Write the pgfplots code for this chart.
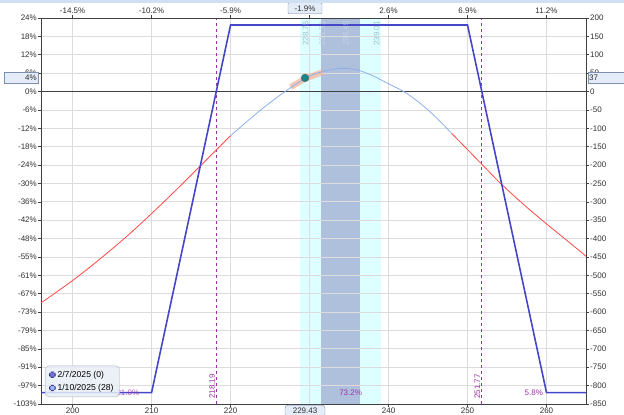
\documentclass[border=0pt]{standalone}
\usepackage{pgfplots}
\pgfplotsset{compat=1.18}
\usepackage{fontspec}
\setmainfont{Liberation Sans}
\definecolor{gridc}{HTML}{DCDCDC}
\definecolor{expc}{HTML}{4646C8}
\definecolor{redc}{HTML}{FF4848}
\definecolor{lbc}{HTML}{8CB0EE}
\definecolor{cyanb}{HTML}{DDFFFF}
\definecolor{darkb}{HTML}{AFC0DC}
\definecolor{mag}{HTML}{A030A8}
\definecolor{boxf}{HTML}{E4ECF8}
\definecolor{boxd}{HTML}{7F8FAF}
\definecolor{axc}{HTML}{404040}
\definecolor{txt}{HTML}{303030}
\definecolor{salm}{HTML}{F4B49C}
\definecolor{tealc}{HTML}{13888A}
\definecolor{toplab}{HTML}{9CC0D2}
\definecolor{toplab2}{HTML}{C4D2E8}
\definecolor{strip}{HTML}{CFE0F2}
\definecolor{legf}{HTML}{E8EEF6}
\definecolor{legd}{HTML}{A8B4C4}
\pgfplotsset{sqleg/.style={legend image code/.code={\draw[##1] (2pt,-3pt) rectangle (8pt,3pt);}}}
\pgfplotstableread{
x y
196 -575
198 -545
200 -514
202 -481
204 -446
206 -410
208 -372
210 -332
212 -291
214 -249
216 -206
218 -163
220 -120
}\redleft
\pgfplotstableread{
x y
220 -120
222 -83
224 -47
226 -14
228 16
230 42
232 56
234 63
236 59
238 43
240 21
242 -1
244 -32
246 -70
248 -114
}\bluemid
\pgfplotstableread{
x y
248 -114
250 -158
252 -202
254 -246
256 -286
258 -324
260 -360
262 -395
264 -430
265 -448
}\redright
\pgfplotstableread{
x y
196 -819
210 -819
220 181
250 181
260 -819
265 -819
}\expiry
\begin{document}
\begin{tikzpicture}
\begin{axis}[
  at={(0pt,0pt)}, anchor=south west, scale only axis,
  width=545pt, height=386pt,
  xmin=196, xmax=265, ymin=-850, ymax=200,
  set layers, clip=false,
  axis x line*=bottom, axis y line*=left,
  axis line style={axc, line width=0.8pt},
  xtick={200,210,...,260}, xticklabels={200,210,220,,240,250,260},
  ytick={-850,-800,...,200},
  yticklabels={-103\%,-97\%,-91\%,-85\%,-79\%,-73\%,-67\%,-61\%,-55\%,-48\%,-42\%,-36\%,-30\%,-24\%,-18\%,-12\%,-6\%,0\%,6\%,12\%,18\%,24\%},
  grid=major, grid style={gridc, line width=0.8pt},
  tick align=outside, major tick length=3pt,
  tick style={axc, line width=0.6pt},
  ticklabel style={font=\fontsize{8}{9}\selectfont, text=txt, inner sep=1pt},
  legend style={at={(0.0073,0.018)}, anchor=south west, draw=legd, fill=legf, fill opacity=0.85, text opacity=1, rounded corners=4pt, font=\fontsize{8.6}{10}\selectfont, inner xsep=4pt, inner ysep=3pt, row sep=1.5pt},
  legend cell align=left,
]
\addplot[fill=cyanb, draw=none, on layer=axis background, forget plot] coordinates {(228.75,-850) (239.01,-850) (239.01,200) (228.75,200)} -- cycle;
\addplot[fill=darkb, draw=none, on layer=axis background, forget plot] coordinates {(231.51,-850) (236.45,-850) (236.45,200) (231.51,200)} -- cycle;
\addplot[axc, line width=0.9pt, forget plot] coordinates {(196,0) (265,0)};
\addplot[mag, line width=0.8pt, dash pattern=on 3pt off 3pt, forget plot] coordinates {(218.19,-850) (218.19,200)};
\addplot[mag, line width=0.8pt, dash pattern=on 3pt off 3pt, forget plot] coordinates {(251.77,-850) (251.77,200)};
\addplot[salm, line width=6pt, opacity=0.75, forget plot] coordinates {(227.6,12) (229.43,35) (231.7,53)};
\addplot[redc, line width=0.8pt, smooth, forget plot] table {\redleft};
\addplot[lbc, line width=0.8pt, smooth, forget plot] table {\bluemid};
\addplot[redc, line width=0.8pt, smooth, forget plot] table {\redright};
\addplot[expc, line width=1.6pt, forget plot] table {\expiry};
\addplot[only marks, mark=*, mark size=3.8pt, mark options={fill=tealc, draw=black!60, line width=0.6pt}, forget plot] coordinates {(229.43,37)};
\node[text=mag, font=\fontsize{8}{9}\selectfont, opacity=0.8] at (axis cs:207,-819) {21.0\%};
\node[text=mag, font=\fontsize{8}{9}\selectfont] at (axis cs:235.2,-819) {73.2\%};
\node[text=mag, font=\fontsize{8}{9}\selectfont] at (axis cs:258.4,-819) {5.8\%};
\node[text=mag, font=\fontsize{8}{9}\selectfont, rotate=90, anchor=south west, inner sep=1pt] at ([yshift=4pt]axis cs:218.19,-850) {218.19};
\node[text=mag, font=\fontsize{8}{9}\selectfont, rotate=90, anchor=south west, inner sep=1pt] at ([yshift=4pt]axis cs:251.77,-850) {251.77};
\node[text=toplab, font=\fontsize{8}{9}\selectfont, rotate=90, anchor=east, inner sep=1pt] at ([yshift=-2pt]axis cs:229.5,200) {228.75};
\node[text=toplab2, font=\fontsize{8}{9}\selectfont, rotate=90, anchor=east, inner sep=1pt] at ([yshift=-2pt]axis cs:231.6,200) {231.51};
\node[text=toplab2, font=\fontsize{8}{9}\selectfont, rotate=90, anchor=east, inner sep=1pt] at ([yshift=-2pt]axis cs:234.6,200) {236.45};
\node[text=toplab, font=\fontsize{8}{9}\selectfont, rotate=90, anchor=east, inner sep=1pt] at ([yshift=-2pt]axis cs:238.5,200) {239.01};
\addlegendimage{sqleg, draw=expc!70!black, fill=expc!85}
\addlegendentry{2/7/2025 (0)}
\addlegendimage{sqleg, draw=expc!70!black, fill=lbc}
\addlegendentry{1/10/2025 (28)}
\end{axis}
\begin{axis}[
  at={(0pt,0pt)}, anchor=south west, scale only axis,
  width=545pt, height=386pt,
  xmin=196, xmax=265, ymin=-850, ymax=200,
  clip=false,
  axis x line*=top, axis y line*=right,
  axis line style={axc, line width=0.8pt},
  xtick={200,210,...,260}, xticklabels={-14.5\%,-10.2\%,-5.9\%,,2.6\%,6.9\%,11.2\%},
  ytick={-850,-800,...,200},
  tick align=outside, major tick length=3pt,
  tick style={axc, line width=0.6pt},
  ticklabel style={font=\fontsize{8}{9}\selectfont, text=txt, inner sep=1pt},
  yticklabel style={/pgf/number format/assume math mode=true},
]
\addplot[draw=none, forget plot] coordinates {(196,-850) (265,200)};
\node[draw=boxd, fill=boxf, anchor=east, minimum height=11pt, text width=32pt, align=right, inner sep=1pt, font=\fontsize{8}{9}\selectfont, text=txt] at ([xshift=-3pt]axis cs:196,37) {4\%};
\node[draw=boxd, fill=boxf, anchor=west, minimum height=11pt, text width=34pt, align=left, inner sep=1pt, font=\fontsize{8}{9}\selectfont, text=txt] at ([xshift=2pt]axis cs:265,37) {37};
\node[draw=boxd, fill=boxf, anchor=south, minimum height=11pt, minimum width=34pt, inner sep=1pt, rounded corners=1pt, font=\fontsize{8}{9}\selectfont, text=txt] at ([yshift=4pt]axis cs:229.43,200) {-1.9\%};
\node[draw=boxd, fill=boxf, anchor=north, minimum height=12pt, minimum width=40pt, inner sep=1pt, rounded corners=3pt, font=\fontsize{8}{9}\selectfont, text=txt] at ([yshift=-1pt]axis cs:229.43,-850) {229.43};
\end{axis}
\fill[strip] (-41pt,401pt) rectangle (583pt,404pt);
\pgfresetboundingbox
\path[use as bounding box] (-41pt,-11pt) rectangle (583pt,404pt);
\end{tikzpicture}
\end{document}
